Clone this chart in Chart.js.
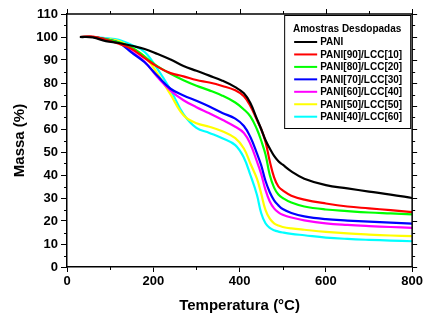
<!DOCTYPE html>
<html>
<head>
<meta charset="utf-8">
<script src="https://cdn.jsdelivr.net/npm/chart.js@4/dist/chart.umd.min.js"></script>
<style>
  html, body { margin: 0; padding: 0; background: #fff; }
  #wrap { width: 425px; height: 320px; }
</style>
</head>
<body>
<div id="wrap"><canvas id="c" width="425" height="320"></canvas></div>
<script>
// ---- data ----
const temperatures = [30, 60, 90, 120, 150, 180, 210, 240, 270, 300, 330, 360, 390, 410, 425, 440, 450, 460, 470, 480, 490, 500, 520, 550, 600, 650, 700, 750, 800];

const massPANI   = [100, 99.8, 98.2, 97.4, 96.2, 94.8, 92.6, 90.2, 87.4, 85.3, 83.2, 81.0, 78.2, 75.5, 71.3, 64.5, 60.0, 55.2, 51.5, 48.3, 46.0, 44.5, 41.6, 38.4, 35.6, 34.2, 32.8, 31.5, 30.0];
const mass90_10  = [100, 100.2, 98.8, 97.1, 94.8, 90.8, 87.0, 84.3, 82.9, 81.3, 80.2, 78.7, 76.8, 74.2, 70.0, 64.0, 60.0, 54.5, 46.0, 39.0, 35.0, 33.3, 31.0, 29.3, 27.6, 26.3, 25.5, 24.7, 23.9];
const mass80_20  = [100, 100, 99.0, 97.7, 95.5, 91.5, 87.2, 84.0, 81.2, 78.8, 76.8, 74.5, 71.5, 68.5, 65.5, 60.0, 55.0, 49.0, 40.0, 34.5, 31.5, 30.0, 28.0, 26.3, 25.0, 24.3, 23.7, 23.3, 22.9];
const mass70_30  = [100, 100, 99.0, 97.5, 93.2, 89.0, 83.0, 77.5, 74.6, 72.3, 69.8, 67.0, 64.5, 61.3, 56.5, 49.5, 44.3, 37.5, 32.5, 29.0, 26.8, 25.2, 23.5, 22.0, 20.8, 20.2, 19.7, 19.3, 18.9];
const mass60_40  = [100, 100, 99.0, 97.6, 93.6, 89.2, 82.5, 76.7, 72.5, 69.5, 66.8, 64.0, 61.0, 58.3, 53.5, 46.0, 40.5, 33.5, 28.5, 25.5, 23.8, 22.7, 21.5, 20.3, 19.0, 18.3, 17.8, 17.4, 17.0];
const mass50_50  = [100, 100, 99.2, 98.2, 95.3, 91.5, 84.0, 75.0, 66.0, 62.5, 61.0, 59.0, 56.0, 51.5, 45.0, 38.5, 32.0, 24.8, 21.0, 19.0, 18.0, 17.4, 16.8, 16.2, 15.3, 14.6, 14.1, 13.7, 13.4];
const mass40_60  = [100, 100, 99.5, 98.8, 96.5, 93.5, 86.0, 77.0, 66.5, 60.5, 58.3, 56.0, 53.0, 47.5, 40.0, 31.5, 23.5, 19.0, 17.0, 16.0, 15.4, 15.0, 14.4, 13.8, 12.8, 12.2, 11.8, 11.5, 11.2];

const seriesLabels = ['PANI', 'PANI[90]/LCC[10]', 'PANI[80]/LCC[20]', 'PANI[70]/LCC[30]', 'PANI[60]/LCC[40]', 'PANI[50]/LCC[50]', 'PANI[40]/LCC[60]'];
const seriesValues = [massPANI, mass90_10, mass80_20, mass70_30, mass60_40, mass50_50, mass40_60];
const seriesColors = ['#000000', '#ff0000', '#00ff00', '#0000ff', '#ff00ff', '#ffff00', '#00ffff'];
const legendTitle = 'Amostras Desdopadas';
const xTitle = 'Temperatura (°C)';
const yTitle = 'Massa (%)';

// ---- chart ----
const FONT = "Arial, 'Liberation Sans', sans-serif";

const datasets = seriesLabels.map((lab, i) => ({
  label: lab,
  data: temperatures.map((t, j) => ({ x: t, y: seriesValues[i][j] })),
  borderColor: seriesColors[i],
  backgroundColor: seriesColors[i],
  borderWidth: 2.2,
  pointRadius: 0,
  fill: false,
  tension: 0.4
}));

const framePlugin = {
  id: 'frame',
  afterDraw(chart) {
    const ctx = chart.ctx;
    const a = chart.chartArea;
    const xs = chart.scales.x, ys = chart.scales.y;
    ctx.save();
    ctx.strokeStyle = '#000';
    ctx.lineWidth = 1.5;
    // top and right border
    ctx.beginPath();
    ctx.moveTo(a.left, a.top); ctx.lineTo(a.right, a.top);
    ctx.moveTo(a.right, a.top); ctx.lineTo(a.right, a.bottom);
    ctx.stroke();
    ctx.lineWidth = 1;
    ctx.beginPath();
    // y ticks: minor on left, major+minor on right
    for (let v = 0; v <= 110; v += 5) {
      const y = Math.round(ys.getPixelForValue(v)) + 0.5;
      const major = v % 10 === 0;
      if (!major) { ctx.moveTo(a.left, y); ctx.lineTo(a.left - 3, y); }
      ctx.moveTo(a.right, y); ctx.lineTo(a.right + (major ? 5 : 3), y);
    }
    // x ticks: minor on bottom, major+minor on top
    for (let v = 0; v <= 800; v += 100) {
      const x = Math.round(xs.getPixelForValue(v)) + 0.5;
      const major = v % 200 === 0;
      if (!major) { ctx.moveTo(x, a.bottom); ctx.lineTo(x, a.bottom + 3); }
      ctx.moveTo(x, a.top); ctx.lineTo(x, a.top - (major ? 5 : 3));
    }
    ctx.stroke();

    // legend box
    const bx = a.right - 128, by = a.top + 1, bw = 126, bh = 113;
    ctx.fillStyle = '#fff';
    ctx.fillRect(bx, by, bw, bh);
    ctx.strokeStyle = '#000';
    ctx.lineWidth = 1;
    ctx.strokeRect(bx + 0.5, by + 0.5, bw, bh);
    ctx.fillStyle = '#000';
    ctx.font = 'bold 10px ' + FONT;
    ctx.textAlign = 'center';
    ctx.textBaseline = 'middle';
    ctx.fillText(legendTitle, bx + bw / 2, by + 14);
    ctx.textAlign = 'left';
    chart.data.datasets.forEach((ds, i) => {
      const yy = by + 27 + i * 12.45;
      ctx.strokeStyle = ds.borderColor;
      ctx.lineWidth = 2;
      ctx.beginPath();
      ctx.moveTo(bx + 10, yy); ctx.lineTo(bx + 33, yy);
      ctx.stroke();
      ctx.fillStyle = '#000';
      ctx.fillText(ds.label, bx + 36, yy + 0.5);
    });
    ctx.restore();
  }
};

new Chart(document.getElementById('c'), {
  type: 'line',
  data: { datasets },
  options: {
    responsive: false,
    animation: false,
    devicePixelRatio: 1,
    layout: { padding: { top: 14, right: 12, left: 0, bottom: 0 } },
    plugins: { legend: { display: false }, tooltip: { enabled: false } },
    scales: {
      x: {
        type: 'linear', min: 0, max: 800,
        afterFit: s => { s.height = 53; },
        ticks: { stepSize: 200, color: '#000', padding: 2, font: { family: FONT, size: 13, weight: 'bold' } },
        grid: { drawOnChartArea: false, drawTicks: true, tickLength: 5, color: '#000', lineWidth: 1 },
        border: { display: true, color: '#000', width: 1.5 },
        title: { display: true, text: xTitle, color: '#000', font: { family: FONT, size: 15, weight: 'bold' }, padding: { top: 0, bottom: 5 } }
      },
      y: {
        type: 'linear', min: 0, max: 110,
        afterFit: s => { s.width = 67; },
        ticks: { stepSize: 10, color: '#000', padding: 3, font: { family: FONT, size: 13, weight: 'bold' } },
        grid: { drawOnChartArea: false, drawTicks: true, tickLength: 6, color: '#000', lineWidth: 1 },
        border: { display: true, color: '#000', width: 1.5 },
        title: { display: true, text: yTitle, color: '#000', font: { family: FONT, size: 15, weight: 'bold' }, padding: { top: 11, bottom: 0 } }
      }
    }
  },
  plugins: [framePlugin]
});
</script>
</body>
</html>
